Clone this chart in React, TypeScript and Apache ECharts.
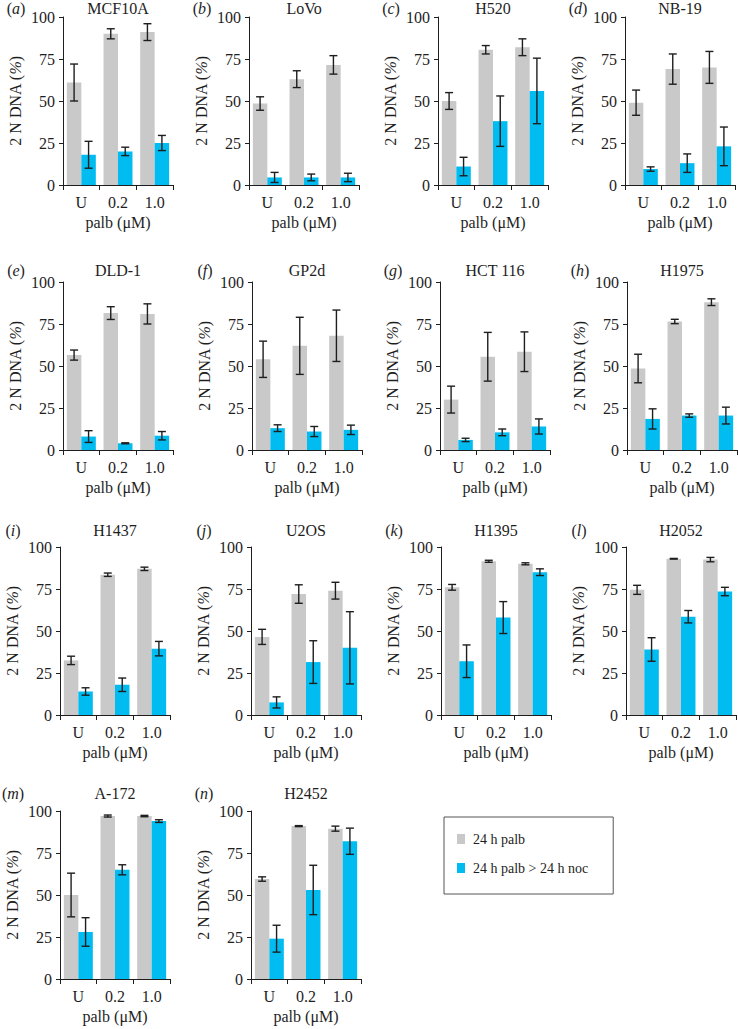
import React, { useEffect, useRef } from "react";
import * as echarts from "echarts";

// ---- data ----
const CATEGORIES = ["U", "0.2", "1.0"];
const PANEL_NAMES = ["MCF10A", "LoVo", "H520", "NB-19", "DLD-1", "GP2d", "HCT 116", "H1975", "H1437", "U2OS", "H1395", "H2052", "A-172", "H2452"];
const PANEL_LETTERS = ["a", "b", "c", "d", "e", "f", "g", "h", "i", "j", "k", "l", "m", "n"];
const SERIES_NAMES = ["24 h palb", "24 h palb > 24 h noc"];

const GREY_MEAN = [
  [61, 90, 91], [48.5, 63, 71.5], [50, 80.5, 82], [49, 69, 70],
  [56.5, 81.5, 81], [54, 62, 68], [30, 55.5, 58.5], [48.5, 76.5, 88],
  [32.5, 83.5, 87], [46.5, 72, 74], [76, 91.5, 90], [74.5, 93, 92.5],
  [50, 97, 97], [59.5, 91, 89.5],
];
const GREY_ERR = [
  [11, 3, 5], [4, 5, 5.5], [5, 2.5, 5], [7.5, 9, 9.5],
  [3, 3.8, 6], [10.8, 17, 15.3], [8, 14.5, 11.8], [8.5, 1.3, 2],
  [2.5, 1, 1], [4.5, 5.5, 5], [1.7, 0.6, 0.6], [2.7, 0.2, 1.3],
  [13, 0.6, 0.4], [1.3, 0.3, 1.5],
];
const BLUE_MEAN = [
  [18, 20, 25], [4.5, 4.5, 4.5], [11, 38, 56], [9.5, 13, 23],
  [8, 4, 8.5], [13, 11, 12], [6, 10.5, 14], [18.5, 20.5, 20.5],
  [14, 18, 39.5], [7.5, 31.5, 40], [32, 58, 85], [39, 58.5, 73.5],
  [28, 65, 94], [24, 53, 82],
];
const BLUE_ERR = [
  [8, 2.5, 4.5], [3, 2, 2.5], [5.5, 15, 19.5], [1.3, 5.5, 11.5],
  [3.5, 0.3, 2.5], [2, 3, 2.8], [1, 2, 4.5], [6, 1, 5],
  [2.2, 4, 4.3], [3.3, 12.7, 21.5], [9.7, 9.5, 2], [7, 3.7, 2.5],
  [8.5, 3, 0.8], [8, 14.7, 7.8],
];
const Y_MIN = 0;
const Y_MAX = 100;
const Y_INTERVAL = 25;

// ---- layout / style ----
const ROW_TOPS = [17, 282, 547, 811];
const TITLE_Y = [8, 270, 530, 793];
const COL_LEFTS = [
  [63, 249, 438, 625],
  [63, 252, 440, 627],
  [60, 251, 441, 626],
  [60, 251],
];
const PLOT_W = 110;
const PLOT_H = 168;
const GAP = 0.21;
const GREY = "#c9c9c9";
const BLUE = "#00bcf0";
const INK = "#1e1e1e";
const FONT = "'Liberation Serif', 'Times New Roman', Times, serif";
const FS = 16;
const LEGEND_FS = 14;

function errRenderer(side: number) {
  return (params: any, api: any) => {
    const j = api.value(0);
    const m = api.value(1);
    const e = api.value(2);
    const top = api.coord([j, m + e]);
    const bot = api.coord([j, m - e]);
    const band = api.size([1, 0])[0];
    const bw = (band * (1 - GAP)) / 2;
    const x = top[0] + (side * bw) / 2;
    const cap = 4;
    const style = { stroke: INK, lineWidth: 1.4 };
    return {
      type: "group",
      children: [
        { type: "line", shape: { x1: x, y1: top[1], x2: x, y2: bot[1] }, style },
        { type: "line", shape: { x1: x - cap, y1: top[1], x2: x + cap, y2: top[1] }, style },
        { type: "line", shape: { x1: x - cap, y1: bot[1], x2: x + cap, y2: bot[1] }, style },
      ],
    };
  };
}

function buildOption() {
  const grid: any[] = [];
  const xAxis: any[] = [];
  const yAxis: any[] = [];
  const series: any[] = [];
  const graphic: any[] = [];
  let idx = 0;
  COL_LEFTS.forEach((lefts, r) => {
    lefts.forEach((left) => {
      const i = idx++;
      grid.push({ left, top: ROW_TOPS[r], width: PLOT_W, height: PLOT_H, containLabel: false });
      xAxis.push({
        type: "category",
        gridIndex: i,
        data: CATEGORIES,
        axisLine: { show: true, lineStyle: { color: INK, width: 1 } },
        axisTick: { show: true, length: 5, lineStyle: { color: INK } },
        axisLabel: { margin: 9, fontSize: FS, fontFamily: FONT, color: INK, interval: 0 },
        name: "palb (μM)",
        nameLocation: "middle",
        nameGap: 29,
        nameTextStyle: { fontSize: FS, fontFamily: FONT, color: INK },
      });
      yAxis.push({
        type: "value",
        gridIndex: i,
        min: Y_MIN,
        max: Y_MAX,
        interval: Y_INTERVAL,
        axisLine: { show: true, lineStyle: { color: INK, width: 1 } },
        axisTick: { show: true, length: 4, lineStyle: { color: INK } },
        splitLine: { show: false },
        axisLabel: { margin: 8, fontSize: FS, fontFamily: FONT, color: INK },
        name: "2 N DNA ({i|%})",
        nameLocation: "middle",
        nameGap: 40,
        nameTextStyle: {
          fontSize: FS,
          fontFamily: FONT,
          color: INK,
          rich: { i: { fontSize: FS, fontFamily: FONT, color: INK, fontStyle: "italic" } },
        },
      });
      series.push({
        type: "bar",
        name: SERIES_NAMES[0],
        xAxisIndex: i,
        yAxisIndex: i,
        data: GREY_MEAN[i],
        barGap: "0%",
        barCategoryGap: GAP * 100 + "%",
        itemStyle: { color: GREY },
        silent: true,
      });
      series.push({
        type: "bar",
        name: SERIES_NAMES[1],
        xAxisIndex: i,
        yAxisIndex: i,
        data: BLUE_MEAN[i],
        barGap: "0%",
        barCategoryGap: GAP * 100 + "%",
        itemStyle: { color: BLUE },
        silent: true,
      });
      series.push({
        type: "custom",
        xAxisIndex: i,
        yAxisIndex: i,
        data: CATEGORIES.map((_, j) => [j, GREY_MEAN[i][j], GREY_ERR[i][j]]),
        encode: { x: 0, y: 1 },
        renderItem: errRenderer(-1),
        z: 10,
        silent: true,
      });
      series.push({
        type: "custom",
        xAxisIndex: i,
        yAxisIndex: i,
        data: CATEGORIES.map((_, j) => [j, BLUE_MEAN[i][j], BLUE_ERR[i][j]]),
        encode: { x: 0, y: 1 },
        renderItem: errRenderer(1),
        z: 10,
        silent: true,
      });
      graphic.push({
        type: "text",
        x: left + PLOT_W / 2,
        y: TITLE_Y[r],
        style: {
          text: PANEL_NAMES[i],
          fontSize: FS,
          fontFamily: FONT,
          fill: INK,
          textAlign: "center",
          textVerticalAlign: "middle",
        },
      });
      graphic.push({
        type: "text",
        x: left - 47,
        y: TITLE_Y[r],
        style: {
          text: "({i|" + PANEL_LETTERS[i] + "})",
          fontSize: FS,
          fontFamily: FONT,
          fill: INK,
          textAlign: "center",
          textVerticalAlign: "middle",
          rich: { i: { fontStyle: "italic", fontSize: FS, fontFamily: FONT, fill: INK } },
        },
      });
    });
  });
  return {
    animation: false,
    backgroundColor: "#fff",
    textStyle: { fontFamily: FONT },
    grid,
    xAxis,
    yAxis,
    series,
    graphic,
    legend: {
      data: SERIES_NAMES,
      orient: "vertical",
      left: 444,
      top: 817,
      icon: "rect",
      itemWidth: 8,
      itemHeight: 10,
      itemGap: 15,
      padding: [15, 25, 19, 13],
      borderColor: "#555",
      borderWidth: 1,
      borderRadius: 0,
      selectedMode: false,
      textStyle: { fontSize: LEGEND_FS, fontFamily: FONT, color: INK, padding: [0, 0, 0, 3] },
    },
  };
}

export default function App() {
  const ref = useRef<HTMLDivElement>(null);
  useEffect(() => {
    if (!ref.current) return;
    const chart = echarts.init(ref.current, undefined, { renderer: "svg" });
    chart.setOption(buildOption() as any);
    return () => chart.dispose();
  }, []);
  return (
    <div
      ref={ref}
      style={{ position: "fixed", left: 0, top: 0, width: 738, height: 1029, background: "#fff" }}
    />
  );
}
